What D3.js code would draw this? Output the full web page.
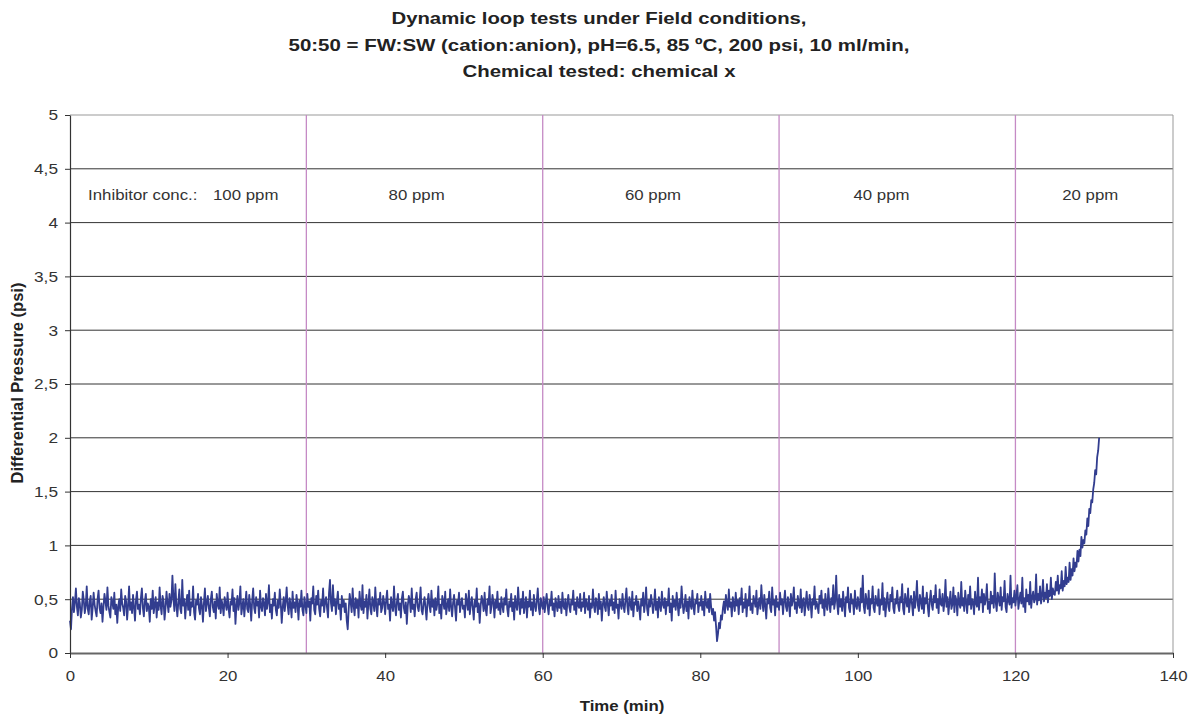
<!DOCTYPE html>
<html>
<head>
<meta charset="utf-8">
<script src="https://cdn.jsdelivr.net/npm/d3@7"></script>
<style>
  body { margin: 0; background: #fff; }
  svg { font-family: "Liberation Sans", Arial, sans-serif; }
</style>
</head>
<body>
<svg id="chart" width="1191" height="716"></svg>
<script>
// Chart text
const titleLines = [
  'Dynamic loop tests under Field conditions,',
  '50:50 = FW:SW (cation:anion), pH=6.5, 85 \u00baC, 200 psi, 10 ml/min,',
  'Chemical tested: chemical x'
];
const xTicks = [0, 20, 40, 60, 80, 100, 120, 140];
const yTicks = [0, 0.5, 1, 1.5, 2, 2.5, 3, 3.5, 4, 4.5, 5];
const stageBounds = [30, 60, 90, 120];
const stageLabels = [
  { t: 2.3, text: 'Inhibitor conc.:', anchor: 'start' },
  { t: 22.3, text: '100 ppm', anchor: 'middle' },
  { t: 44, text: '80 ppm', anchor: 'middle' },
  { t: 74, text: '60 ppm', anchor: 'middle' },
  { t: 103, text: '40 ppm', anchor: 'middle' },
  { t: 129.5, text: '20 ppm', anchor: 'middle' }
];

// Differential pressure (psi), one reading every 0.125 min
const sampleStep = 0.125;
const pressure = [
  // 0-5 min
  0.30,0.22,0.41,0.52,0.38,0.47,0.60,0.43,0.35,0.51,0.46,0.33,0.40,0.57,0.49,0.37,0.44,0.62,0.41,0.36,
  0.48,0.53,0.31,0.42,0.56,0.45,0.39,0.34,0.50,0.58,0.42,0.37,0.46,0.29,0.43,0.55,0.48,0.40,0.61,0.44,
  // 5-10
  0.38,0.33,0.52,0.47,0.41,0.56,0.36,0.45,0.28,0.43,0.50,0.39,0.59,0.46,0.42,0.35,0.53,0.48,0.31,0.44,
  0.62,0.40,0.47,0.37,0.54,0.43,0.30,0.49,0.57,0.41,0.45,0.36,0.51,0.60,0.42,0.34,0.48,0.55,0.39,0.46,
  // 10-15
  0.43,0.29,0.50,0.41,0.58,0.37,0.45,0.52,0.33,0.47,0.40,0.61,0.44,0.36,0.53,0.48,0.31,0.42,0.57,0.46,
  0.38,0.55,0.43,0.49,0.72,0.51,0.39,0.64,0.45,0.34,0.47,0.59,0.41,0.37,0.68,0.44,0.50,0.32,0.46,0.54,
  // 15-20
  0.40,0.58,0.35,0.47,0.43,0.62,0.38,0.31,0.49,0.45,0.55,0.41,0.36,0.52,0.44,0.29,0.47,0.60,0.39,0.46,
  0.53,0.42,0.34,0.50,0.57,0.43,0.38,0.48,0.32,0.55,0.45,0.41,0.61,0.37,0.49,0.44,0.35,0.52,0.46,0.40,
  // 20-25
  0.56,0.42,0.33,0.48,0.45,0.59,0.39,0.51,0.27,0.44,0.53,0.40,0.47,0.62,0.36,0.43,0.50,0.34,0.46,0.57,
  0.41,0.38,0.54,0.45,0.30,0.49,0.60,0.42,0.37,0.52,0.44,0.48,0.33,0.58,0.43,0.39,0.51,0.46,0.35,0.55,
  // 25-30
  0.41,0.47,0.63,0.38,0.45,0.32,0.50,0.44,0.56,0.40,0.35,0.49,0.42,0.59,0.46,0.28,0.43,0.52,0.39,0.48,
  0.61,0.44,0.36,0.51,0.45,0.33,0.57,0.42,0.47,0.38,0.54,0.46,0.31,0.49,0.43,0.58,0.40,0.35,0.52,0.45,
  // 30-35
  0.37,0.55,0.43,0.48,0.30,0.51,0.46,0.62,0.40,0.36,0.53,0.45,0.58,0.41,0.34,0.49,0.44,0.60,0.38,0.47,
  0.52,0.42,0.33,0.56,0.68,0.46,0.39,0.63,0.44,0.50,0.36,0.48,0.57,0.41,0.45,0.31,0.53,0.43,0.49,0.38,
  // 35-40
  0.46,0.30,0.22,0.41,0.55,0.47,0.38,0.60,0.44,0.35,0.51,0.42,0.49,0.33,0.57,0.45,0.40,0.63,0.37,0.48,
  0.43,0.54,0.32,0.46,0.59,0.41,0.36,0.52,0.47,0.39,0.61,0.44,0.34,0.50,0.45,0.56,0.38,0.42,0.53,0.47,
  // 40-45
  0.36,0.49,0.58,0.41,0.45,0.30,0.52,0.44,0.39,0.62,0.43,0.35,0.48,0.55,0.40,0.46,0.33,0.51,0.57,0.42,
  0.37,0.47,0.27,0.44,0.53,0.49,0.38,0.60,0.41,0.45,0.34,0.50,0.56,0.43,0.39,0.48,0.61,0.40,0.36,0.46,
  // 45-50
  0.52,0.42,0.31,0.47,0.55,0.44,0.38,0.58,0.43,0.49,0.35,0.51,0.40,0.46,0.62,0.37,0.45,0.32,0.53,0.48,
  0.41,0.57,0.36,0.44,0.50,0.39,0.59,0.43,0.34,0.47,0.54,0.42,0.30,0.49,0.45,0.56,0.38,0.46,0.51,0.41,
  // 50-55
  0.44,0.33,0.55,0.47,0.40,0.58,0.36,0.45,0.52,0.42,0.31,0.49,0.43,0.60,0.38,0.46,0.28,0.44,0.53,0.48,
  0.39,0.56,0.41,0.35,0.50,0.45,0.62,0.37,0.43,0.54,0.47,0.33,0.49,0.42,0.57,0.40,0.46,0.36,0.52,0.44,
  // 55-60
  0.38,0.51,0.45,0.59,0.41,0.34,0.48,0.43,0.55,0.39,0.47,0.31,0.53,0.44,0.40,0.61,0.46,0.36,0.50,0.42,
  0.57,0.37,0.45,0.52,0.33,0.48,0.43,0.58,0.40,0.47,0.35,0.54,0.44,0.39,0.49,0.60,0.42,0.36,0.51,0.45,
  // 60-65
  0.41,0.52,0.38,0.47,0.55,0.43,0.36,0.49,0.44,0.57,0.40,0.46,0.34,0.51,0.45,0.39,0.53,0.42,0.48,0.37,
  0.56,0.44,0.41,0.50,0.35,0.46,0.54,0.43,0.38,0.49,0.45,0.58,0.40,0.47,0.36,0.52,0.44,0.42,0.55,0.39,
  // 65-70
  0.47,0.43,0.56,0.37,0.50,0.45,0.40,0.53,0.33,0.46,0.42,0.59,0.44,0.38,0.51,0.47,0.36,0.55,0.41,0.48,
  0.30,0.45,0.52,0.43,0.39,0.57,0.46,0.35,0.49,0.44,0.54,0.40,0.47,0.37,0.58,0.42,0.45,0.32,0.50,0.46,
  // 70-75
  0.41,0.55,0.44,0.38,0.49,0.60,0.43,0.36,0.52,0.46,0.40,0.57,0.34,0.47,0.45,0.53,0.39,0.48,0.42,0.31,
  0.50,0.44,0.56,0.38,0.46,0.61,0.41,0.35,0.49,0.43,0.54,0.47,0.37,0.45,0.59,0.40,0.48,0.33,0.52,0.44,
  // 75-80
  0.39,0.57,0.45,0.42,0.51,0.36,0.48,0.44,0.60,0.38,0.46,0.30,0.53,0.43,0.49,0.40,0.56,0.45,0.35,0.50,
  0.42,0.62,0.47,0.37,0.44,0.54,0.39,0.48,0.32,0.52,0.45,0.41,0.58,0.43,0.36,0.49,0.46,0.55,0.38,0.47,
  // 80-85 (dip near 82 min)
  0.44,0.53,0.40,0.48,0.35,0.57,0.45,0.42,0.50,0.38,0.55,0.43,0.36,0.41,0.30,0.38,0.25,0.11,0.18,0.28,
  0.23,0.35,0.31,0.42,0.48,0.37,0.54,0.45,0.40,0.59,0.43,0.47,0.34,0.52,0.46,0.39,0.56,0.44,0.49,0.36,
  // 85-90
  0.51,0.45,0.60,0.38,0.47,0.42,0.55,0.34,0.49,0.44,0.62,0.40,0.46,0.37,0.53,0.48,0.43,0.58,0.36,0.45,
  0.51,0.41,0.63,0.47,0.39,0.54,0.44,0.32,0.50,0.46,0.57,0.42,0.38,0.61,0.45,0.49,0.35,0.53,0.43,0.47,
  // 90-95
  0.40,0.56,0.45,0.50,0.36,0.48,0.58,0.43,0.39,0.52,0.46,0.34,0.55,0.44,0.49,0.61,0.41,0.47,0.37,0.53,
  0.45,0.42,0.59,0.38,0.48,0.51,0.35,0.46,0.57,0.43,0.40,0.54,0.47,0.33,0.50,0.45,0.62,0.41,0.48,0.44,
  // 95-100
  0.37,0.53,0.46,0.58,0.42,0.49,0.35,0.55,0.44,0.40,0.60,0.47,0.38,0.51,0.45,0.63,0.41,0.48,0.72,0.46,
  0.36,0.54,0.43,0.50,0.39,0.57,0.45,0.34,0.52,0.47,0.61,0.42,0.38,0.55,0.46,0.49,0.36,0.58,0.44,0.41,
  // 100-105
  0.52,0.45,0.39,0.60,0.47,0.72,0.43,0.37,0.55,0.48,0.41,0.58,0.35,0.50,0.46,0.62,0.42,0.38,0.53,0.47,
  0.44,0.59,0.36,0.49,0.45,0.65,0.40,0.51,0.34,0.47,0.56,0.43,0.39,0.54,0.48,0.61,0.42,0.37,0.50,0.46,
  // 105-110
  0.58,0.44,0.39,0.52,0.47,0.64,0.41,0.36,0.55,0.49,0.43,0.60,0.38,0.47,0.53,0.45,0.35,0.57,0.42,0.50,
  0.67,0.44,0.39,0.54,0.48,0.41,0.62,0.37,0.51,0.46,0.56,0.43,0.34,0.49,0.58,0.45,0.40,0.53,0.47,0.63,
  // 110-115
  0.42,0.50,0.37,0.59,0.46,0.44,0.55,0.39,0.48,0.68,0.43,0.52,0.36,0.47,0.57,0.41,0.45,0.61,0.38,0.53,
  0.49,0.35,0.56,0.46,0.42,0.66,0.44,0.51,0.39,0.58,0.47,0.37,0.54,0.45,0.62,0.41,0.50,0.48,0.36,0.57,
  // 115-120
  0.46,0.43,0.70,0.40,0.52,0.47,0.59,0.38,0.55,0.45,0.50,0.64,0.41,0.48,0.37,0.57,0.46,0.53,0.42,0.74,
  0.47,0.39,0.56,0.50,0.44,0.61,0.40,0.52,0.48,0.67,0.43,0.38,0.55,0.49,0.45,0.72,0.42,0.51,0.47,0.58,
  // 120-125
  0.44,0.53,0.63,0.41,0.49,0.56,0.46,0.70,0.43,0.51,0.38,0.59,0.48,0.54,0.45,0.66,0.42,0.52,0.57,0.47,
  0.50,0.73,0.45,0.55,0.49,0.62,0.46,0.53,0.68,0.48,0.56,0.51,0.64,0.47,0.58,0.53,0.70,0.50,0.60,0.55,
  // 125-130 (blockage build-up)
  0.54,0.66,0.58,0.72,0.55,0.63,0.60,0.76,0.58,0.67,0.62,0.80,0.64,0.70,0.66,0.84,
  0.68,0.78,0.72,0.88,0.76,0.84,0.80,0.95,0.85,0.96,0.90,1.08,0.98,1.05,1.02,1.14,
  1.10,1.25,1.18,1.34,1.30,1.42,1.40,1.52,
  1.58,1.70,1.66,1.82,1.88,2.00
];

const svg = d3.select('#chart');
const margin = { left: 70, right: 1173, top: 115, bottom: 653 };

const x = d3.scaleLinear().domain([0, 140]).range([margin.left, margin.right]);
const y = d3.scaleLinear().domain([0, 5]).range([margin.bottom, margin.top]);

// the source picture is a bit wide, so widen the glyphs to match
function stretch(sel, k) {
  sel.each(function () {
    const w = this.getComputedTextLength();
    d3.select(this).attr('textLength', w * k).attr('lengthAdjust', 'spacingAndGlyphs');
  });
}

// Title
const titleWidths = [415, 621, 273];
svg.append('g').selectAll('text').data(titleLines).join('text')
  .attr('x', 599).attr('y', (d, i) => 24 + i * 26.5)
  .attr('text-anchor', 'middle')
  .attr('font-size', 17).attr('font-weight', 'bold').attr('fill', '#222')
  .attr('textLength', (d, i) => titleWidths[i]).attr('lengthAdjust', 'spacingAndGlyphs')
  .text(d => d);

// Horizontal gridlines
svg.append('g').selectAll('line').data(yTicks.filter(v => v > 0 && v < 5)).join('line')
  .attr('x1', margin.left).attr('x2', margin.right)
  .attr('y1', d => y(d)).attr('y2', d => y(d))
  .attr('stroke', '#333').attr('stroke-width', 1);

// Top and right frame
svg.append('line').attr('x1', margin.left).attr('x2', margin.right)
  .attr('y1', y(5)).attr('y2', y(5)).attr('stroke', '#999');
svg.append('line').attr('x1', margin.right).attr('x2', margin.right)
  .attr('y1', y(5)).attr('y2', y(0)).attr('stroke', '#999');

// Stage boundaries
svg.append('g').selectAll('line').data(stageBounds).join('line')
  .attr('x1', d => x(d)).attr('x2', d => x(d))
  .attr('y1', y(5)).attr('y2', y(0))
  .attr('stroke', '#c58ac5').attr('stroke-width', 1.3);

// Stage labels
svg.append('g').selectAll('text').data(stageLabels).join('text')
  .attr('x', d => x(d.t)).attr('y', y(4.25))
  .attr('text-anchor', d => d.anchor).attr('dominant-baseline', 'middle')
  .attr('font-size', 15).attr('fill', '#333')
  .text(d => d.text)
  .call(stretch, 1.12);

// Pressure trace
const line = d3.line()
  .x((d, i) => x(i * sampleStep))
  .y(d => y(d));
svg.append('path').datum(pressure)
  .attr('d', line)
  .attr('fill', 'none').attr('stroke', '#323d8f')
  .attr('stroke-width', 1.8).attr('stroke-linejoin', 'round');

// Axes
const fmt = d => String(d).replace('.', ',');
const yAxis = svg.append('g').attr('transform', `translate(${margin.left},0)`)
  .call(d3.axisLeft(y).tickValues(yTicks).tickSize(5).tickSizeOuter(0).tickFormat(fmt).tickPadding(7));
yAxis.select('.domain').attr('stroke', '#333').attr('stroke-width', 1.2);
yAxis.selectAll('.tick line').attr('stroke', '#333');
yAxis.selectAll('text').attr('font-size', 15).attr('fill', '#333')
  .attr('font-family', '"Liberation Sans", Arial, sans-serif')
  .call(stretch, 1.15);

const xAxis = svg.append('g').attr('transform', `translate(0,${margin.bottom})`)
  .call(d3.axisBottom(x).tickValues(xTicks).tickSize(5).tickSizeOuter(0).tickPadding(12));
xAxis.select('.domain').attr('stroke', '#666').attr('stroke-width', 2);
xAxis.selectAll('.tick line').attr('stroke', '#333');
xAxis.selectAll('text').attr('font-size', 15).attr('fill', '#333')
  .attr('font-family', '"Liberation Sans", Arial, sans-serif')
  .call(stretch, 1.12);

// Axis titles
svg.append('text').attr('x', 622).attr('y', 711)
  .attr('text-anchor', 'middle').attr('font-size', 15).attr('font-weight', 'bold').attr('fill', '#222')
  .text('Time (min)')
  .call(stretch, 1.12);
svg.append('text')
  .attr('transform', 'translate(23,383) rotate(-90)')
  .attr('text-anchor', 'middle').attr('font-size', 16.5).attr('font-weight', 'bold').attr('fill', '#222')
  .text('Differential Pressure (psi)');
</script>
</body>
</html>
